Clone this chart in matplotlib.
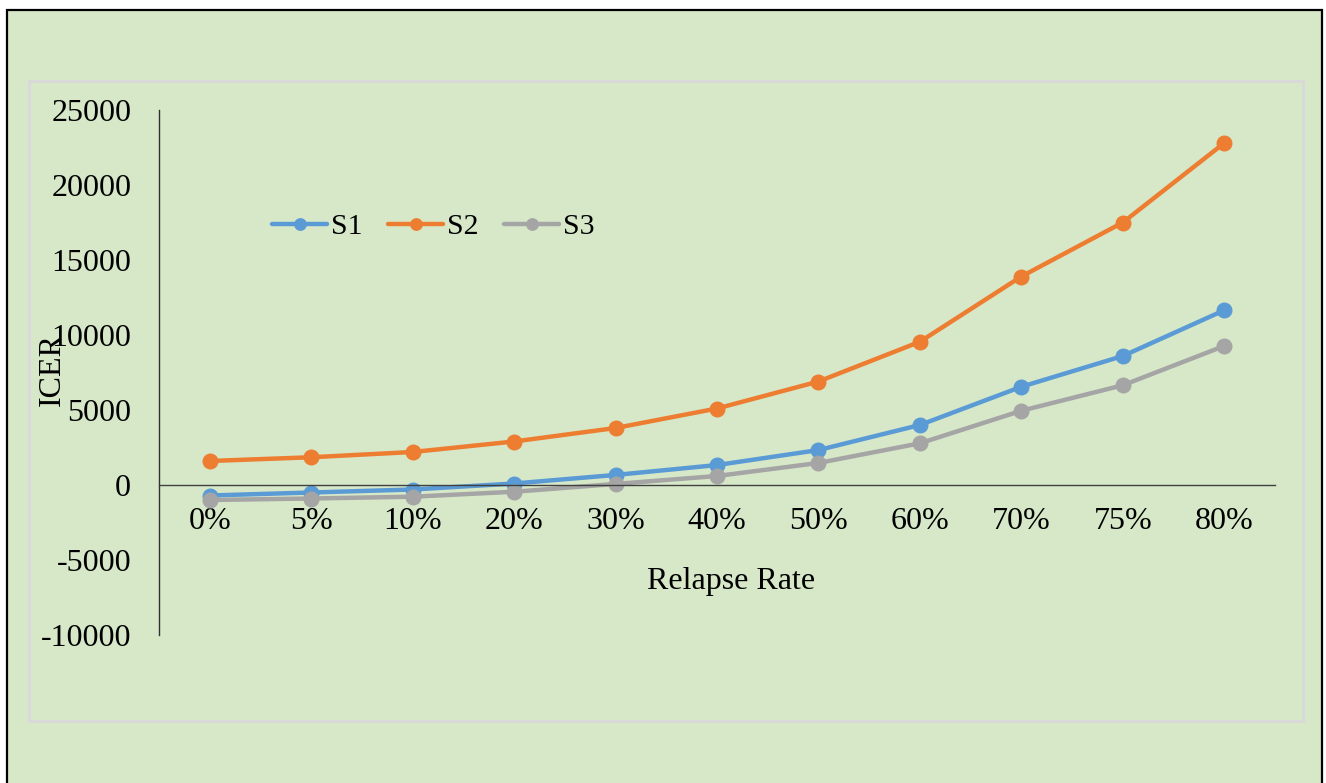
import matplotlib
matplotlib.use("Agg")
import matplotlib.pyplot as plt
from matplotlib.patches import Rectangle

plt.rcParams["font.family"] = ["Liberation Serif", "DejaVu Serif"]

categories = ["0%", "5%", "10%", "20%", "30%", "40%", "50%", "60%", "70%", "75%", "80%"]
s1 = [-700, -500, -300, 100, 670, 1330, 2330, 4000, 6550, 8600, 11650]
s2 = [1600, 1850, 2200, 2900, 3800, 5100, 6900, 9550, 13900, 17500, 22800]
s3 = [-1000, -900, -780, -450, 70, 600, 1470, 2780, 4950, 6650, 9270]
series = [("S1", s1, "#5B9BD5"), ("S2", s2, "#ED7D31"), ("S3", s3, "#A5A5A5")]
yticks = [-10000, -5000, 0, 5000, 10000, 15000, 20000, 25000]

W, H = 1326, 783
fig = plt.figure(figsize=(W / 100, H / 100), dpi=100, facecolor="white")

# outer green panel with black frame, inner light-gray plot-area frame
fig.patches.append(Rectangle((7 / W, -0.05), (1322 - 7) / W, 1 - 10 / H + 0.05,
                             transform=fig.transFigure, facecolor="#D7E8C9",
                             edgecolor="black", linewidth=1.6, zorder=-2))
fig.patches.append(Rectangle((29 / W, 1 - 721 / H), (1303 - 29) / W, (721 - 81) / H,
                             transform=fig.transFigure, facecolor="none",
                             edgecolor="#D9D9D9", linewidth=2.2, zorder=-1))

ax = fig.add_axes([159 / W, 1 - 635 / H, (1275 - 159) / W, (635 - 110) / H])
ax.set_facecolor("none")
ax.set_zorder(1)
x = range(len(categories))
for name, vals, color in series:
    ax.plot(x, vals, color=color, linewidth=3.2, marker="o", markersize=10.5,
            label=name, solid_capstyle="round")

ax.set_xlim(-0.5, len(categories) - 0.5)
ax.set_ylim(-10000, 25000)
ax.set_yticks(yticks)
ax.set_yticklabels([str(v) for v in yticks])
ax.set_xticks(list(x))
ax.set_xticklabels(categories)
ax.tick_params(axis="y", length=0, pad=20, labelsize=23)
ax.tick_params(axis="x", length=0, pad=16, labelsize=23)
ax.spines[["top", "right"]].set_visible(False)
ax.spines["bottom"].set_position(("data", 0))
ax.spines["bottom"].set_color("#404040")
ax.spines["bottom"].set_linewidth(1.0)
ax.spines["left"].set_color("#303030")
ax.spines["left"].set_linewidth(1.0)

fig.text(731 / W, 1 - 582 / H, "Relapse Rate", fontsize=23, ha="center", va="center")
fig.text(52 / W, 1 - 369 / H, "ICER", fontsize=23, ha="center", va="center", rotation=90)

ax.legend(loc="center left", bbox_to_anchor=(272 / W, 1 - 227 / H),
          bbox_transform=fig.transFigure, ncol=3, frameon=False, fontsize=21.5,
          markerscale=0.78, handlelength=1.85, handletextpad=0.14,
          columnspacing=0.84, borderaxespad=0, borderpad=0)

fig.savefig("out.png", dpi=100, facecolor="white")
